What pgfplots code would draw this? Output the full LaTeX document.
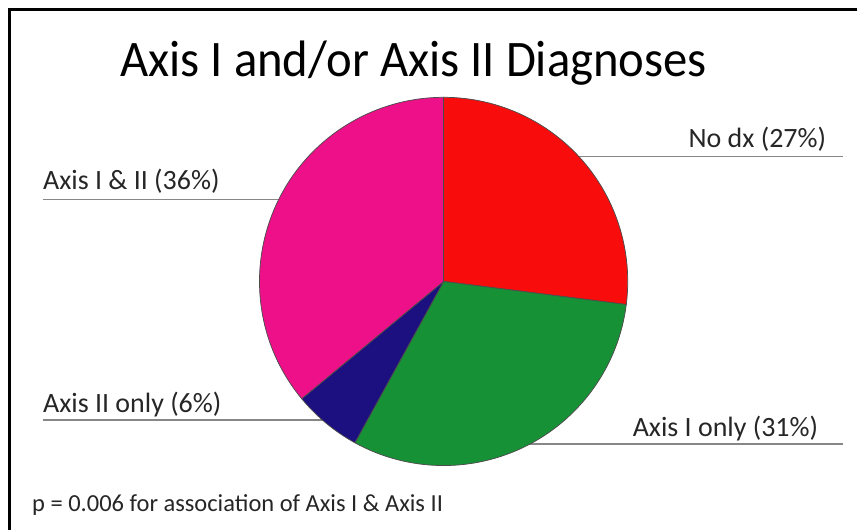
\documentclass[border=0pt]{standalone}
\usepackage{fontspec}
\setmainfont{Carlito}
\usepackage{pgfplots}
\usepackage{pgfplotstable}
\pgfplotsset{compat=1.18}

\definecolor{nodx}{RGB}{249,12,12}
\definecolor{axisone}{RGB}{23,145,54}
\definecolor{axistwo}{RGB}{28,15,128}
\definecolor{both}{RGB}{237,16,136}
\definecolor{leader}{RGB}{135,135,135}

% share of patients in each group (percent), clockwise from 12 o'clock
\pgfplotstableread{
group  start pct
nodx       0  27
axisone   27  31
axistwo   58   6
both      64  36
}\diagtable

% pie centre and radius in axis units (1 unit = 0.75pt)
\def\cx{444.5}
\def\cy{249}
\def\rad{138.375pt}

\newcommand\piewedge[3]{%
  \pgfmathsetmacro\sa{90-3.6*#1}%
  \pgfmathsetmacro\ea{90-3.6*(#1+#2)}%
  \edef\tmp{\noexpand\filldraw[fill=#3, draw=black!70, line width=0.55pt, line join=round]
    (axis cs:\cx,\cy) -- ++(\sa:\rad) arc[start angle=\sa, end angle=\ea, radius=\rad] -- cycle;}%
  \tmp}

\begin{document}
\begin{tikzpicture}
\begin{axis}[
  hide axis, clip=false, scale only axis,
  x=0.75pt, y=0.75pt,
  xmin=0, xmax=859, ymin=0, ymax=531,
]
\path (axis cs:0,0) rectangle (axis cs:859,531);

% frame along the top and left
\draw[line width=2.6pt] (axis cs:859,521.5) -- (axis cs:9.5,521.5) -- (axis cs:9.5,0);

% leader lines under the labels
\draw[leader, line width=1.1pt] (axis cs:43,331) -- (axis cs:330,331);
\draw[leader, line width=1.1pt] (axis cs:43,110) -- (axis cs:350,110);
\draw[leader, line width=1.1pt] (axis cs:560,374) -- (axis cs:845,374);
\draw[leader, line width=1.1pt] (axis cs:500,86) -- (axis cs:845,86);

% wedges
\pgfplotstablegetrowsof{\diagtable}
\pgfmathtruncatemacro\lastrow{\pgfplotsretval-1}
\pgfplotsforeachungrouped \r in {0,...,\lastrow}{%
  \pgfplotstablegetelem{\r}{group}\of\diagtable \let\g\pgfplotsretval
  \pgfplotstablegetelem{\r}{start}\of\diagtable \let\s\pgfplotsretval
  \pgfplotstablegetelem{\r}{pct}\of\diagtable \let\p\pgfplotsretval
  \piewedge{\s}{\p}{\g}%
}

% title and labels
\node[anchor=base, inner sep=0pt, font=\fontsize{38.5}{42}\selectfont] at (axis cs:414.5,454) {\scalebox{0.95}[1]{Axis I and/or Axis II Diagnoses}};
\node[anchor=base east, inner sep=0pt, text=black!85, font=\fontsize{21}{24}\selectfont] at (axis cs:828,383) {No dx (27\%)};
\node[anchor=base east, inner sep=0pt, text=black!85, font=\fontsize{21}{24}\selectfont] at (axis cs:820,94) {Axis I only (31\%)};
\node[anchor=base west, inner sep=0pt, text=black!85, font=\fontsize{21}{24}\selectfont] at (axis cs:43,341) {Axis I \& II (36\%)};
\node[anchor=base west, inner sep=0pt, text=black!85, font=\fontsize{21}{24}\selectfont] at (axis cs:43,118) {Axis II only (6\%)};
\node[anchor=base west, inner sep=0pt, text=black!85, font=\fontsize{18.4}{20}\selectfont] at (axis cs:32,18) {p = 0.006 for association of Axis I \& Axis II};
\end{axis}
\end{tikzpicture}
\end{document}
